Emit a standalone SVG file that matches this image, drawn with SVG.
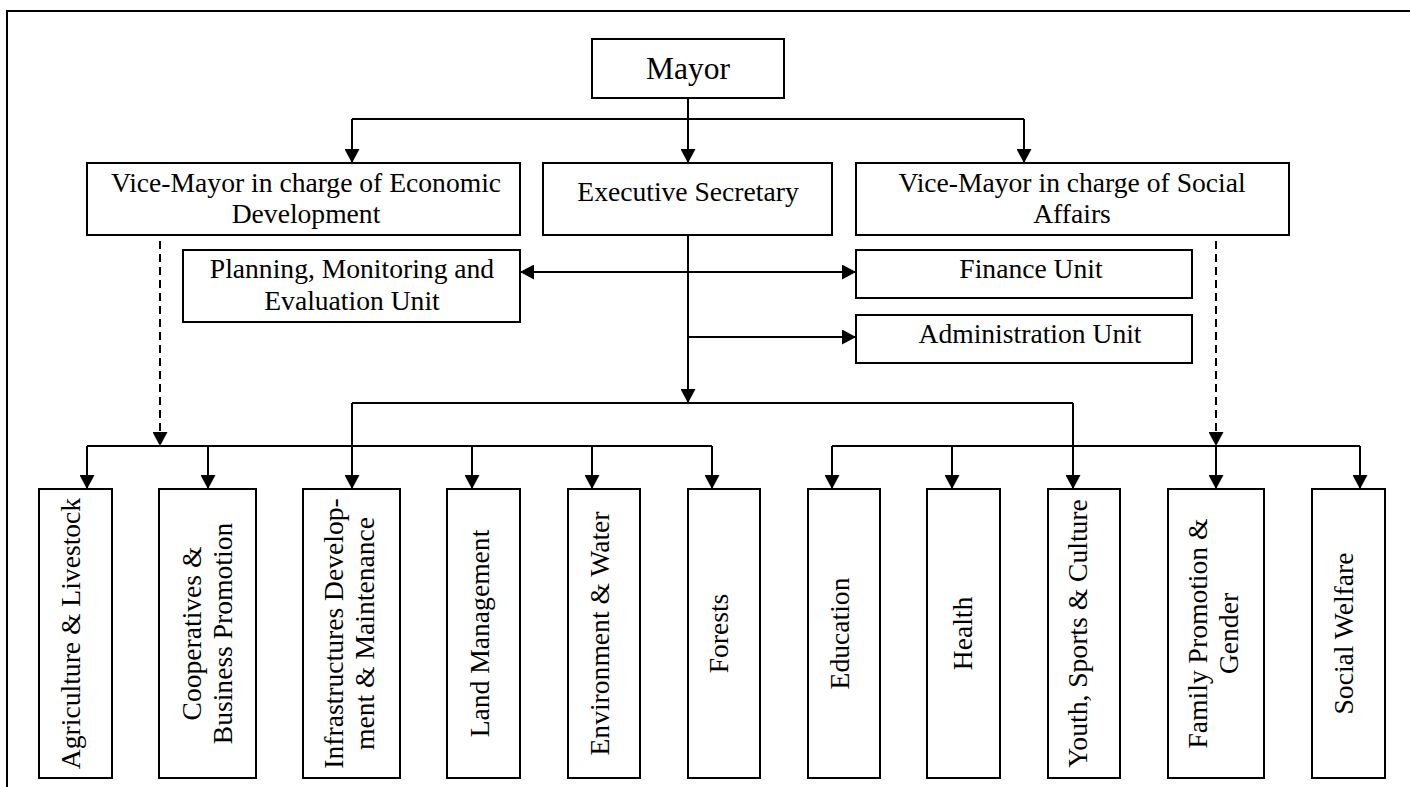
<svg xmlns="http://www.w3.org/2000/svg" width="1410" height="787" viewBox="0 0 1410 787">
  <style>
    .box { fill: #ffffff; stroke: #000000; stroke-width: 2; }
    .lbl { font-family: "Liberation Serif", "Times New Roman", serif; font-size: 27.6px; fill: #000000; text-anchor: middle; }
    .big { font-size: 31.5px; }
    .wire { fill: none; stroke: #000000; stroke-width: 2; }
    .dash { stroke-dasharray: 8 5; }
    .frame { fill: none; stroke: #000000; stroke-width: 2; }
  </style>
  <defs>
    <marker id="arrow" viewBox="0 0 14 15" refX="14" refY="7.5" markerWidth="14" markerHeight="15" markerUnits="userSpaceOnUse" orient="auto-start-reverse">
      <path d="M0,0 L14,7.5 L0,15 Z" fill="#000000"/>
    </marker>
  </defs>

  <rect width="1410" height="787" fill="#ffffff"/>
  <!-- page frame: top and left edges -->
  <path class="frame" d="M7,787 V11 H1410"/>

  <!-- connectors -->
  <g id="connectors">
    <!-- Mayor to the three deputies -->
    <path class="wire" d="M688,98 V163" marker-end="url(#arrow)"/>
    <path class="wire" d="M352,119 H1024"/>
    <path class="wire" d="M352,119 V163" marker-end="url(#arrow)"/>
    <path class="wire" d="M1024,119 V163" marker-end="url(#arrow)"/>

    <!-- dotted supervision lines from the vice-mayors -->
    <path class="wire dash" d="M160,228 V446" marker-end="url(#arrow)"/>
    <path class="wire dash" d="M1216,228 V446" marker-end="url(#arrow)"/>

    <!-- Executive Secretary trunk -->
    <path class="wire" d="M688,228 V403" marker-end="url(#arrow)"/>
    <path class="wire" d="M520,272 H856" marker-start="url(#arrow)" marker-end="url(#arrow)"/>
    <path class="wire" d="M688,337 H856" marker-end="url(#arrow)"/>

    <!-- distribution to the departments -->
    <path class="wire" d="M352,403 H1073"/>
    <path class="wire" d="M352,403 V489" marker-end="url(#arrow)"/>
    <path class="wire" d="M1073,403 V489" marker-end="url(#arrow)"/>

    <path class="wire" d="M87,446 H712"/>
    <path class="wire" d="M87,446 V489" marker-end="url(#arrow)"/>
    <path class="wire" d="M208,446 V489" marker-end="url(#arrow)"/>
    <path class="wire" d="M472,446 V489" marker-end="url(#arrow)"/>
    <path class="wire" d="M592,446 V489" marker-end="url(#arrow)"/>
    <path class="wire" d="M712,446 V489" marker-end="url(#arrow)"/>

    <path class="wire" d="M832,446 H1360"/>
    <path class="wire" d="M832,446 V489" marker-end="url(#arrow)"/>
    <path class="wire" d="M952,446 V489" marker-end="url(#arrow)"/>
    <path class="wire" d="M1216,446 V489" marker-end="url(#arrow)"/>
    <path class="wire" d="M1360,446 V489" marker-end="url(#arrow)"/>
  </g>

  <!-- top management -->
  <g id="mayor">
    <rect class="box" x="592" y="39" width="192" height="59"/>
    <text class="lbl big" x="688" y="79">Mayor</text>
  </g>
  <g id="vice-mayor-economic">
    <rect class="box" x="87" y="163" width="433" height="72"/>
    <text class="lbl" x="306" y="192">Vice-Mayor in charge of Economic</text>
    <text class="lbl" x="306" y="223">Development</text>
  </g>
  <g id="executive-secretary">
    <rect class="box" x="543" y="163" width="289" height="72"/>
    <text class="lbl" x="688" y="201">Executive Secretary</text>
  </g>
  <g id="vice-mayor-social">
    <rect class="box" x="856" y="163" width="433" height="72"/>
    <text class="lbl" x="1072" y="192">Vice-Mayor in charge of Social</text>
    <text class="lbl" x="1072" y="223">Affairs</text>
  </g>

  <!-- support units -->
  <g id="planning-unit">
    <rect class="box" x="183" y="250" width="337" height="72"/>
    <text class="lbl" x="352" y="278">Planning, Monitoring and</text>
    <text class="lbl" x="352" y="310">Evaluation Unit</text>
  </g>
  <g id="finance-unit">
    <rect class="box" x="856" y="250" width="336" height="48"/>
    <text class="lbl" x="1031" y="278">Finance Unit</text>
  </g>
  <g id="administration-unit">
    <rect class="box" x="856" y="315" width="336" height="48"/>
    <text class="lbl" x="1030" y="343">Administration Unit</text>
  </g>

  <!-- departments -->
  <g id="agriculture">
    <rect class="box" x="39" y="489" width="73" height="289"/>
    <text class="lbl" transform="translate(80,633.5) rotate(-90)">Agriculture &amp; Livestock</text>
  </g>
  <g id="cooperatives">
    <rect class="box" x="159" y="489" width="97" height="289"/>
    <text class="lbl" transform="translate(201,633.5) rotate(-90)"><tspan x="0" y="0">Cooperatives &amp;</tspan><tspan x="0" y="31">Business Promotion</tspan></text>
  </g>
  <g id="infrastructures">
    <rect class="box" x="303" y="489" width="97" height="289"/>
    <text class="lbl" transform="translate(343,633.5) rotate(-90)"><tspan x="0" y="0">Infrastructures Develop-</tspan><tspan x="0" y="31">ment &amp; Maintenance</tspan></text>
  </g>
  <g id="land-management">
    <rect class="box" x="447" y="489" width="73" height="289"/>
    <text class="lbl" transform="translate(489,633.5) rotate(-90)">Land Management</text>
  </g>
  <g id="environment">
    <rect class="box" x="568" y="489" width="72" height="289"/>
    <text class="lbl" transform="translate(609,633.5) rotate(-90)">Environment &amp; Water</text>
  </g>
  <g id="forests">
    <rect class="box" x="688" y="489" width="72" height="289"/>
    <text class="lbl" transform="translate(728,633.5) rotate(-90)">Forests</text>
  </g>
  <g id="education">
    <rect class="box" x="808" y="489" width="72" height="289"/>
    <text class="lbl" transform="translate(849,633.5) rotate(-90)">Education</text>
  </g>
  <g id="health">
    <rect class="box" x="927" y="489" width="73" height="289"/>
    <text class="lbl" transform="translate(972,633.5) rotate(-90)">Health</text>
  </g>
  <g id="youth-sports-culture">
    <rect class="box" x="1048" y="489" width="72" height="289"/>
    <text class="lbl" transform="translate(1087,633.5) rotate(-90)">Youth, Sports &amp; Culture</text>
  </g>
  <g id="family-gender">
    <rect class="box" x="1168" y="489" width="96" height="289"/>
    <text class="lbl" transform="translate(1207,633.5) rotate(-90)"><tspan x="0" y="0">Family Promotion &amp;</tspan><tspan x="0" y="31">Gender</tspan></text>
  </g>
  <g id="social-welfare">
    <rect class="box" x="1312" y="489" width="73" height="289"/>
    <text class="lbl" transform="translate(1353,633.5) rotate(-90)">Social Welfare</text>
  </g>
</svg>
